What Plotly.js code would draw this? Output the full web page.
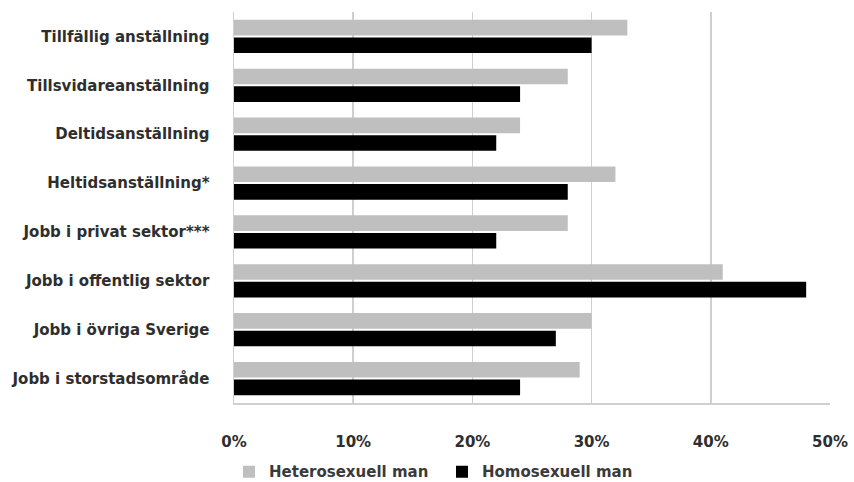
<!DOCTYPE html>
<html>
<head>
<meta charset="utf-8">
<script src="https://cdn.plot.ly/plotly-3.0.1.min.js"></script>
<style>html,body{margin:0;padding:0;background:#fff;}#chart{width:854px;height:482px;}</style>
</head>
<body>
<div id="chart"></div>
<script>
const categories = [
  "Tillfällig anställning",
  "Tillsvidareanställning",
  "Deltidsanställning",
  "Heltidsanställning*",
  "Jobb i privat sektor***",
  "Jobb i offentlig sektor",
  "Jobb i övriga Sverige",
  "Jobb i storstadsområde"
];
const heteroValues = [0.33, 0.28, 0.24, 0.32, 0.28, 0.41, 0.30, 0.29];
const homoValues   = [0.30, 0.24, 0.22, 0.28, 0.22, 0.48, 0.27, 0.24];
const xTickValues = [0, 0.1, 0.2, 0.3, 0.4, 0.5];
const xTickLabels = ["0%", "10%", "20%", "30%", "40%", "50%"];

const font = "'DejaVu Sans', sans-serif";
const textColor = "#2e2e2e";

const data = [
  {type: "bar", orientation: "h", name: "Heterosexuell man", y: categories, x: heteroValues,
   marker: {color: "#bfbfbf"}, hoverinfo: "x+name"},
  {type: "bar", orientation: "h", name: "Homosexuell man", y: categories, x: homoValues,
   marker: {color: "#000000"}, hoverinfo: "x+name"}
];

const layout = {
  width: 854, height: 482,
  margin: {l: 234, r: 24, t: 12, b: 79},
  paper_bgcolor: "#fff", plot_bgcolor: "#fff",
  barmode: "group", bargap: 0.28, bargroupgap: 0.11,
  font: {family: font, color: textColor, size: 15, weight: "bold"},
  showlegend: true,
  legend: {orientation: "h", xref: "paper", x: -0.0084, xanchor: "left",
           yref: "container", y: 0.021, yanchor: "middle",
           font: {family: font, size: 15, color: "#3a3a3a", weight: "bold"}, itemwidth: 30,
           entrywidth: 168, traceorder: "normal"},
  xaxis: {range: [0, 0.5], tickvals: xTickValues, ticktext: xTickLabels,
          showgrid: true, gridcolor: "#cfcfcf", gridwidth: 1.5, zeroline: false,
          showline: true, linecolor: "#cfcfcf", linewidth: 1.5,
          ticks: "", ticklabelstandoff: 24,
          tickfont: {family: font, size: 15, color: textColor, weight: "bold"}, fixedrange: true},
  yaxis: {autorange: "reversed", showgrid: false, zeroline: false,
          showline: true, linecolor: "#cfcfcf", linewidth: 1.5,
          ticks: "", ticklabelstandoff: 20,
          tickfont: {family: font, size: 15, color: textColor, weight: "bold"}, fixedrange: true}
};

Plotly.newPlot("chart", data, layout, {displayModeBar: false, staticPlot: true});
</script>
</body>
</html>
